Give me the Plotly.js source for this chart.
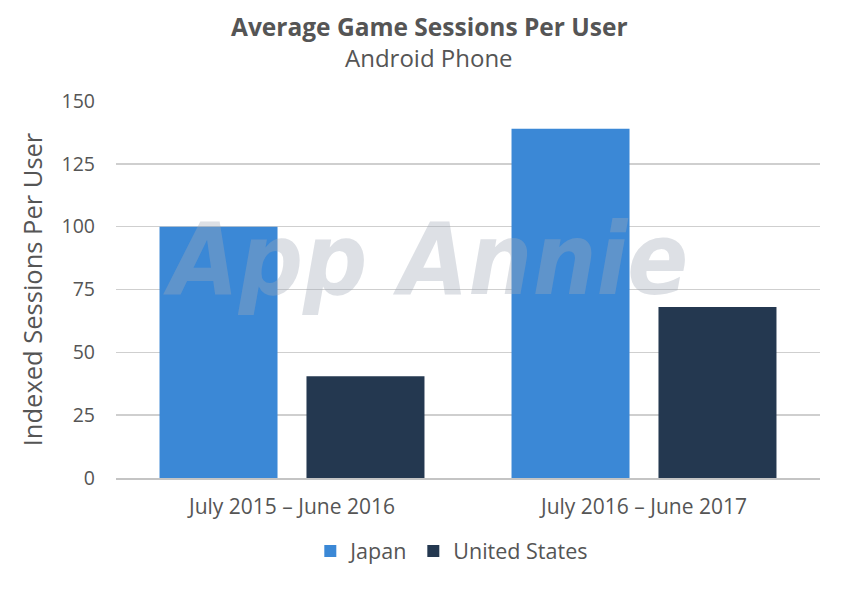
<!DOCTYPE html>
<html><head><meta charset="utf-8">
<script src="https://cdn.plot.ly/plotly-3.0.1.min.js"></script>
<style>html,body{margin:0;padding:0;background:#fff}#chart{width:851px;height:598px}</style>
</head><body><div id="chart"></div>
<script>
const categories = ["July 2015 – June 2016", "July 2016 – June 2017"];
const japan = [100, 139];
const unitedStates = [40.5, 68];
const yTicks = [0, 25, 50, 75, 100, 125, 150];

const font = "'Open Sans', Lato, sans-serif";
const textColor = "#555555";

const traces = [
  {type: "bar", name: "Japan", x: categories, y: japan, marker: {color: "#3b88d6"}},
  {type: "bar", name: "United States", x: categories, y: unitedStates, marker: {color: "#243850"}}
];

const layout = {
  width: 851, height: 598,
  paper_bgcolor: "#ffffff", plot_bgcolor: "#ffffff",
  margin: {l: 116, r: 31, t: 101, b: 120},
  font: {family: font, color: textColor, size: 19},
  barmode: "group", bargap: 0.165, bargroupgap: 0.197,
  xaxis: {showgrid: false, showline: true, linecolor: "#c4c4c4", linewidth: 1.5,
          ticks: "", ticklabelstandoff: 9, tickfont: {size: 21, color: textColor}},
  yaxis: {range: [0, 150], tickvals: yTicks, ticktext: yTicks.map(String),
          showgrid: true, gridcolor: "#cfcfcf", gridwidth: 1.5, zeroline: false,
          showline: false, ticks: "", ticklabelstandoff: 20,
          tickfont: {size: 19.5, color: textColor},
          title: {text: "Indexed Sessions Per User", standoff: 11, font: {size: 25.5, color: textColor}}},
  legend: {orientation: "h", x: 0.477, xanchor: "center", y: -0.139, yanchor: "top",
           font: {size: 21.5, color: textColor}, traceorder: "normal", itemwidth: 30},
  annotations: [
    {text: "<b>Average Game Sessions Per User</b>", xref: "paper", yref: "paper", x: 0.445, y: 1.198,
     xanchor: "center", yanchor: "middle", showarrow: false, font: {family: font, size: 24.5, color: textColor}},
    {text: "Android Phone", xref: "paper", yref: "paper", x: 0.444, y: 1.116,
     xanchor: "center", yanchor: "middle", showarrow: false, font: {family: font, size: 24, color: textColor}},
    {text: "<b><i>App Annie</i></b>", xref: "paper", yref: "paper", x: 0.44, y: 0.58,
     xanchor: "center", yanchor: "middle", showarrow: false,
     font: {family: "'DejaVu Sans Condensed', 'DejaVu Sans', sans-serif", size: 100, color: "rgba(160,170,182,0.36)"}}
  ]
};

Plotly.newPlot("chart", traces, layout, {displayModeBar: false, staticPlot: true});
</script>
</body></html>
